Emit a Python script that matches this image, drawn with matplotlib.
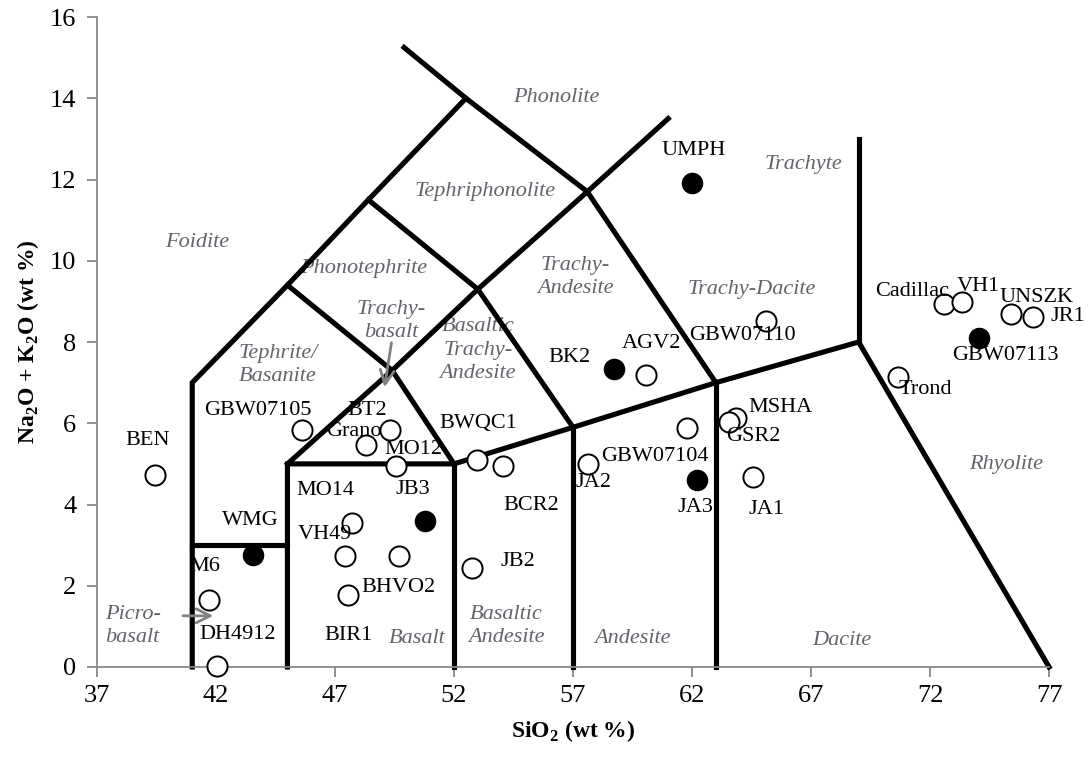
import matplotlib
matplotlib.use('Agg')
import matplotlib.pyplot as plt

plt.rcParams['font.family'] = ['Liberation Serif', 'DejaVu Serif']
plt.rcParams['mathtext.fontset'] = 'custom'
plt.rcParams['mathtext.rm'] = 'Liberation Serif'
plt.rcParams['mathtext.bf'] = 'Liberation Serif:bold'

# samples (SiO2, Na2O+K2O)
open_names = ['BEN', 'GBW07105', 'Grano', 'BT2', 'MO12', 'BWQC1', 'BCR2', 'MO14', 'VH49',
              'BHVO2', 'BIR1', 'JB2', 'M6', 'DH4912', 'AGV2', 'JA2', 'GBW07104', 'MSHA',
              'GSR2', 'JA1', 'GBW07110', 'Trond', 'Cadillac', 'VH1', 'UNSZK', 'JR1']
open_sio2 = [39.44, 45.61, 48.30, 49.31, 49.56, 52.97, 54.06, 47.71, 47.42,
             49.69, 47.55, 52.76, 41.71, 42.04, 60.07, 57.63, 61.79, 63.85,
             63.55, 64.56, 65.11, 70.66, 72.59, 73.34, 75.40, 76.33]
open_alk = [4.73, 5.84, 5.47, 5.84, 4.95, 5.10, 4.95, 3.55, 2.73,
            2.73, 1.77, 2.44, 1.65, 0.02, 7.19, 5.00, 5.89, 6.13,
            6.03, 4.68, 8.52, 7.14, 8.94, 8.99, 8.69, 8.62]

filled_names = ['UMPH', 'BK2', 'JB3', 'WMG', 'JA3', 'GBW07113']
filled_sio2 = [62.0, 58.72, 50.78, 43.55, 62.21, 74.06]
filled_alk = [11.92, 7.34, 3.60, 2.76, 4.61, 8.10]

# label offsets in pixels (dx, dy up)
offs = {'BEN': (-7, 34), 'GBW07105': (-44, 19), 'Grano': (-12, 13), 'BT2': (-23, 19),
        'MO12': (17, 16), 'BWQC1': (1, 36), 'BCR2': (28, -40), 'MO14': (-27, 32),
        'VH49': (-20, 22), 'BHVO2': (-1, -31), 'BIR1': (0, -40), 'JB2': (46, 6),
        'M6': (-4, 33), 'DH4912': (21, 32), 'AGV2': (5, 31), 'JA2': (5, -19),
        'GBW07104': (-32, -29), 'MSHA': (44, 10), 'GSR2': (24, -14), 'JA1': (14, -33),
        'GBW07110': (-24, -15), 'Trond': (27, -13), 'Cadillac': (-32, 12), 'VH1': (16, 15),
        'UNSZK': (26, 16), 'JR1': (35, 0), 'UMPH': (2, 32), 'BK2': (-45, 11),
        'JB3': (-12, 31), 'WMG': (-3, 34), 'JA3': (-2, -28), 'GBW07113': (26, -18)}

# TAS field boundaries
lines = [
    [(41, 0), (41, 7), (45, 9.4), (48.4, 11.5), (52.5, 14), (49.9, 15.25)],
    [(41, 3), (45, 3)],
    [(45, 0), (45, 5), (52, 5), (57, 5.9), (63, 7), (69, 8), (77, 0)],
    [(45, 5), (49.4, 7.3), (53, 9.3), (57.6, 11.7), (61, 13.5)],
    [(52, 0), (52, 5)],
    [(57, 0), (57, 5.9)],
    [(63, 0), (63, 7)],
    [(69, 8), (69, 13)],
    [(45, 9.4), (49.4, 7.3), (52, 5)],
    [(48.4, 11.5), (53, 9.3), (57, 5.9)],
    [(52.5, 14), (57.6, 11.7), (63, 7)],
]

fields = ['Phonolite', 'Trachyte', 'Tephriphonolite', 'Foidite', 'Phonotephrite',
          'Trachy-\nAndesite', 'Trachy-Dacite', 'Trachy-\nbasalt', 'Tephrite/\nBasanite',
          'Basaltic\nTrachy-\nAndesite', 'Rhyolite', 'Picro-\nbasalt', 'Basalt',
          'Basaltic\nAndesite', 'Andesite', 'Dacite']
field_x = [56.3, 66.7, 53.3, 41.2, 48.2, 57.1, 64.5, 49.35, 44.6, 53.0, 75.2, 38.5,
           50.45, 54.2, 59.5, 68.3]
field_y = [14.02, 12.36, 11.70, 10.44, 9.80, 9.6, 9.29, 8.52, 7.44, 7.8, 4.98, 1.0,
           0.71, 1.0, 0.71, 0.64]

fig = plt.figure(figsize=(10.89, 7.57), dpi=100)
ax = fig.add_axes([0.0891, 0.1189, 0.8742, 0.8586])

for ln in lines:
    xs = [p[0] for p in ln]
    ys = [p[1] for p in ln]
    ax.plot(xs, ys, color='black', lw=3.7, solid_joinstyle='miter', zorder=2, clip_on=False)

gray = '#65636b'
for name, x, y in zip(fields, field_x, field_y):
    ax.text(x, y, name, fontsize=16, style='italic', color=gray, ha='center', va='center',
            linespacing=1.3, zorder=1)

ax.annotate('', xy=(42.0, 1.26), xytext=(40.5, 1.26),
            arrowprops=dict(arrowstyle='->', color='#808080', lw=2, mutation_scale=25))
ax.annotate('', xy=(49.06, 6.82), xytext=(49.39, 8.05),
            arrowprops=dict(arrowstyle='->', color='#808080', lw=2, mutation_scale=25))

ax.plot(open_sio2, open_alk, 'o', ms=14.5, mfc='white', mec='black', mew=1.4, ls='none',
        zorder=3, clip_on=False)
ax.plot(filled_sio2, filled_alk, 'o', ms=14.5, mfc='black', mec='black', ls='none', zorder=3)

for name, x, y in zip(open_names + filled_names, open_sio2 + filled_sio2, open_alk + filled_alk):
    dx, dy = offs[name]
    ax.annotate(name, (x, y), xytext=(dx * 0.72, dy * 0.72), textcoords='offset points',
                ha='center', va='center', fontsize=16, color='black', zorder=4)

ax.set_xlim(37, 77)
ax.set_ylim(0, 16)
ax.set_xticks(range(37, 78, 5))
ax.set_yticks(range(0, 17, 2))
ax.tick_params(labelsize=19, color='#888888', length=7, width=1.3, direction='out')
ax.tick_params(axis='y', pad=8)
ax.tick_params(axis='x', pad=6)
for s in ['top', 'right']:
    ax.spines[s].set_visible(False)
for s in ['left', 'bottom']:
    ax.spines[s].set_color('#888888')
    ax.spines[s].set_linewidth(1.3)

ax.set_xlabel(r'SiO$_\mathbf{2}$ (wt %)', fontsize=17, fontweight='bold', labelpad=8)
ax.set_ylabel(r'Na$_\mathbf{2}$O + K$_\mathbf{2}$O (wt %)', fontsize=17, fontweight='bold',
              labelpad=6)

fig.savefig('out.png', dpi=100)
